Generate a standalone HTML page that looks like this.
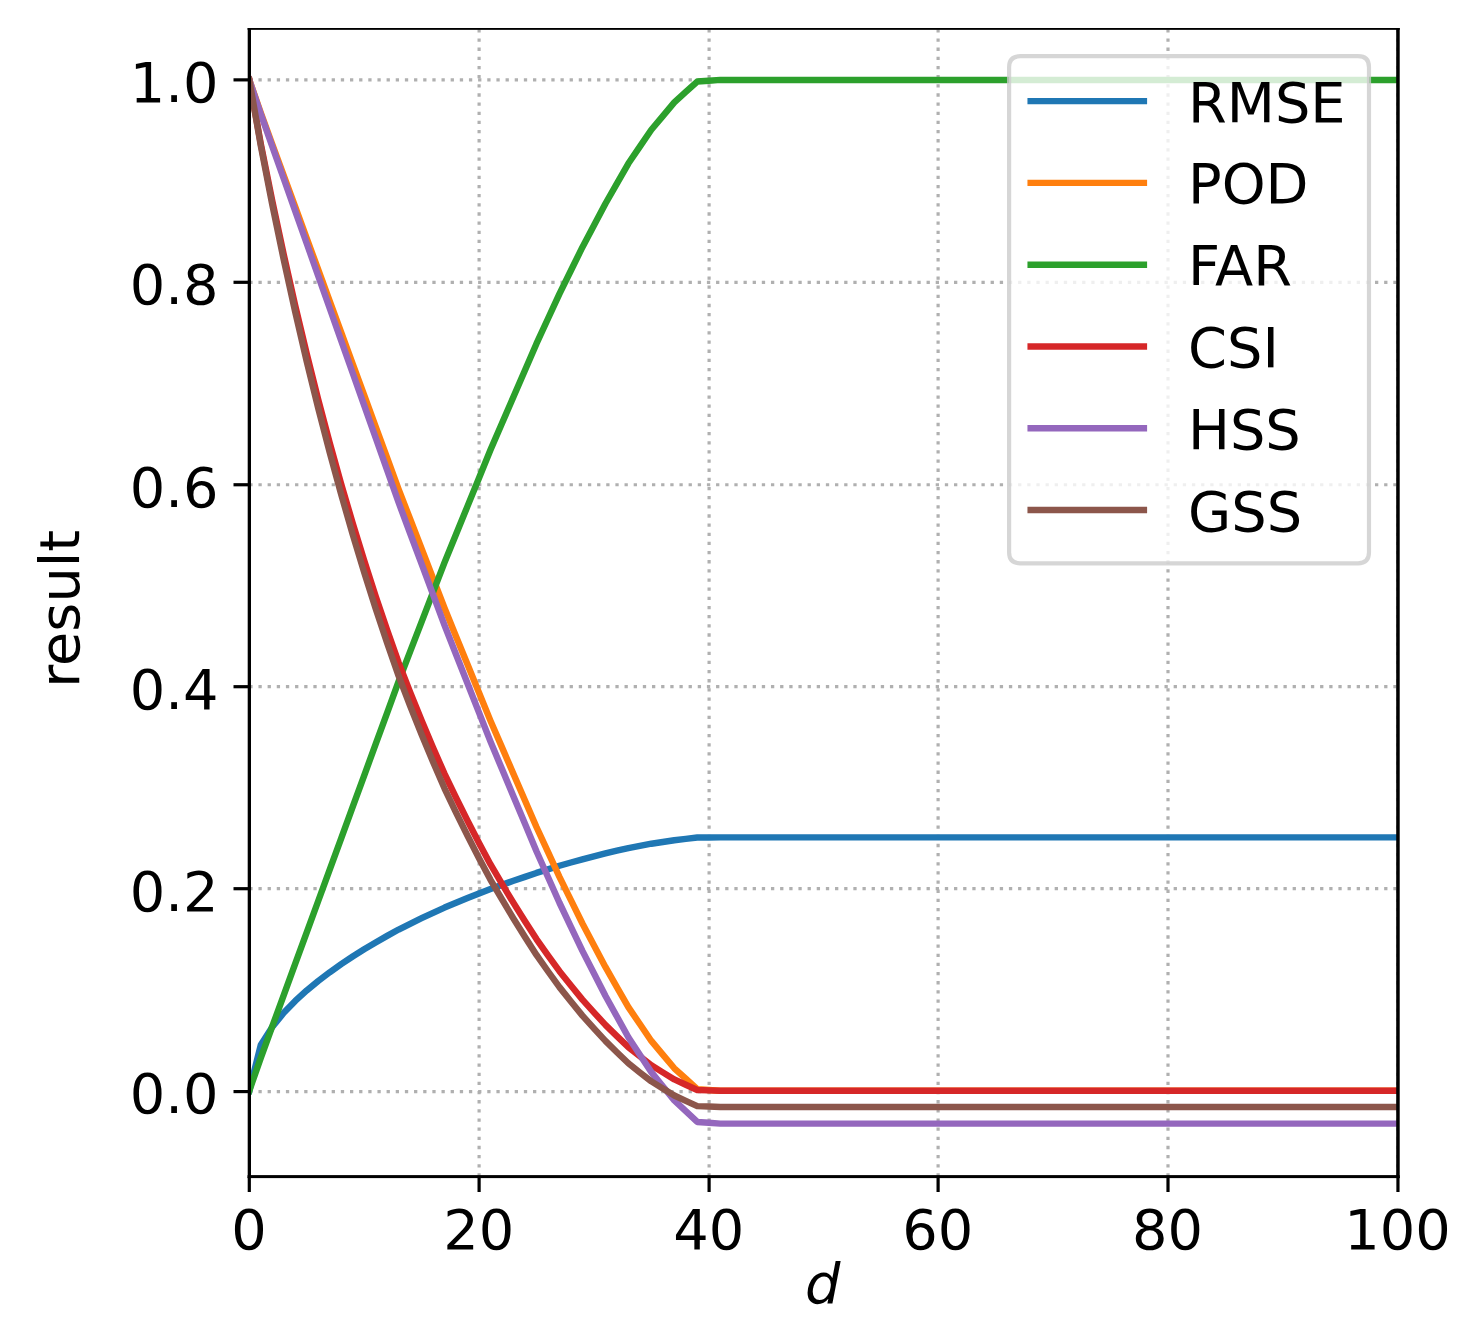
<!DOCTYPE html>
<html><head><meta charset="utf-8"><title>result vs d</title>
<style>
html,body{margin:0;padding:0;background:#fff;}
body{width:1479px;height:1338px;overflow:hidden;}
svg{display:block;}
text{font-family:"DejaVu Sans","Liberation Sans",sans-serif;font-size:55.8px;fill:#000;}
</style></head><body>
<svg width="1479" height="1338" viewBox="0 0 1479 1338">
<rect width="1479" height="1338" fill="#fff"/>
<defs><clipPath id="ax"><rect x="249.3" y="29.2" width="1148.65" height="1147.3999999999999"/></clipPath></defs>

<g stroke="#b0b0b0" stroke-width="3.2" stroke-dasharray="3.3 5.852" fill="none" clip-path="url(#ax)">
<path d="M249.30 1176.6 V29.2"/>
<path d="M479.10 1176.6 V29.2"/>
<path d="M709.10 1176.6 V29.2"/>
<path d="M938.10 1176.6 V29.2"/>
<path d="M1168.00 1176.6 V29.2"/>
<path d="M1397.95 1176.6 V29.2"/>
<path d="M249.3 1091.57 H1397.95"/>
<path d="M249.3 888.70 H1397.95"/>
<path d="M249.3 686.70 H1397.95"/>
<path d="M249.3 484.75 H1397.95"/>
<path d="M249.3 282.30 H1397.95"/>
<path d="M249.3 79.87 H1397.95"/>
</g>
<g fill="none" stroke-width="6.45" stroke-linejoin="round" stroke-linecap="square" clip-path="url(#ax)">
<polyline stroke="#1f77b4" points="249.30,1090.80 260.79,1045.03 272.27,1026.87 283.76,1012.82 295.25,1000.95 306.73,990.47 318.22,980.99 329.71,972.26 341.19,964.13 352.68,956.50 364.17,949.27 375.65,942.40 387.14,935.83 398.62,929.53 410.11,923.77 421.60,918.21 433.08,912.81 444.57,907.58 456.06,902.76 467.54,898.07 479.03,893.48 490.52,889.00 502.00,884.86 513.49,880.81 524.98,876.83 536.46,872.93 547.95,869.32 559.44,865.78 570.92,862.51 582.41,859.28 593.89,856.32 605.38,853.40 616.87,850.72 628.35,848.08 639.84,845.88 651.33,843.70 662.81,841.95 674.30,840.21 685.79,838.89 697.27,837.57 708.76,837.47 720.25,837.37 731.73,837.37 743.22,837.37 754.71,837.37 766.19,837.37 777.68,837.37 789.17,837.37 800.65,837.37 812.14,837.37 823.62,837.37 835.11,837.37 846.60,837.37 858.08,837.37 869.57,837.37 881.06,837.37 892.54,837.37 904.03,837.37 915.52,837.37 927.00,837.37 938.49,837.37 949.98,837.37 961.46,837.37 972.95,837.37 984.44,837.37 995.92,837.37 1007.41,837.37 1018.90,837.37 1030.38,837.37 1041.87,837.37 1053.36,837.37 1064.84,837.37 1076.33,837.37 1087.81,837.37 1099.30,837.37 1110.79,837.37 1122.27,837.37 1133.76,837.37 1145.25,837.37 1156.73,837.37 1168.22,837.37 1179.71,837.37 1191.19,837.37 1202.68,837.37 1214.17,837.37 1225.65,837.37 1237.14,837.37 1248.63,837.37 1260.11,837.37 1271.60,837.37 1283.09,837.37 1294.57,837.37 1306.06,837.37 1317.54,837.37 1329.03,837.37 1340.52,837.37 1352.00,837.37 1363.49,837.37 1374.98,837.37 1386.46,837.37 1397.95,837.37"/>
<polyline stroke="#ff7f0e" points="249.30,79.90 260.79,112.87 272.27,144.24 283.76,175.60 295.25,206.97 306.73,238.33 318.22,269.70 329.71,301.06 341.19,332.42 352.68,363.79 364.17,395.15 375.65,426.52 387.14,457.88 398.62,489.25 410.11,519.00 421.60,548.76 433.08,578.51 444.57,608.27 456.06,636.42 467.54,664.57 479.03,692.71 490.52,720.86 502.00,747.40 513.49,773.94 524.98,800.48 536.46,827.02 547.95,851.95 559.44,876.88 570.92,900.20 582.41,923.52 593.89,945.24 605.38,966.95 616.87,987.06 628.35,1007.16 639.84,1024.05 651.33,1040.94 662.81,1054.61 674.30,1068.28 685.79,1078.74 697.27,1089.19 708.76,1090.00 720.25,1090.80 731.73,1090.80 743.22,1090.80 754.71,1090.80 766.19,1090.80 777.68,1090.80 789.17,1090.80 800.65,1090.80 812.14,1090.80 823.62,1090.80 835.11,1090.80 846.60,1090.80 858.08,1090.80 869.57,1090.80 881.06,1090.80 892.54,1090.80 904.03,1090.80 915.52,1090.80 927.00,1090.80 938.49,1090.80 949.98,1090.80 961.46,1090.80 972.95,1090.80 984.44,1090.80 995.92,1090.80 1007.41,1090.80 1018.90,1090.80 1030.38,1090.80 1041.87,1090.80 1053.36,1090.80 1064.84,1090.80 1076.33,1090.80 1087.81,1090.80 1099.30,1090.80 1110.79,1090.80 1122.27,1090.80 1133.76,1090.80 1145.25,1090.80 1156.73,1090.80 1168.22,1090.80 1179.71,1090.80 1191.19,1090.80 1202.68,1090.80 1214.17,1090.80 1225.65,1090.80 1237.14,1090.80 1248.63,1090.80 1260.11,1090.80 1271.60,1090.80 1283.09,1090.80 1294.57,1090.80 1306.06,1090.80 1317.54,1090.80 1329.03,1090.80 1340.52,1090.80 1352.00,1090.80 1363.49,1090.80 1374.98,1090.80 1386.46,1090.80 1397.95,1090.80"/>
<polyline stroke="#2ca02c" points="249.30,1090.80 260.79,1057.83 272.27,1026.46 283.76,995.10 295.25,963.73 306.73,932.37 318.22,901.00 329.71,869.64 341.19,838.28 352.68,806.91 364.17,775.55 375.65,744.18 387.14,712.82 398.62,681.45 410.11,651.70 421.60,621.94 433.08,592.19 444.57,562.43 456.06,534.28 467.54,506.13 479.03,477.99 490.52,449.84 502.00,423.30 513.49,396.76 524.98,370.22 536.46,343.68 547.95,318.75 559.44,293.82 570.92,270.50 582.41,247.18 593.89,225.46 605.38,203.75 616.87,183.64 628.35,163.54 639.84,146.65 651.33,129.76 662.81,116.09 674.30,102.42 685.79,91.96 697.27,81.51 708.76,80.70 720.25,79.90 731.73,79.90 743.22,79.90 754.71,79.90 766.19,79.90 777.68,79.90 789.17,79.90 800.65,79.90 812.14,79.90 823.62,79.90 835.11,79.90 846.60,79.90 858.08,79.90 869.57,79.90 881.06,79.90 892.54,79.90 904.03,79.90 915.52,79.90 927.00,79.90 938.49,79.90 949.98,79.90 961.46,79.90 972.95,79.90 984.44,79.90 995.92,79.90 1007.41,79.90 1018.90,79.90 1030.38,79.90 1041.87,79.90 1053.36,79.90 1064.84,79.90 1076.33,79.90 1087.81,79.90 1099.30,79.90 1110.79,79.90 1122.27,79.90 1133.76,79.90 1145.25,79.90 1156.73,79.90 1168.22,79.90 1179.71,79.90 1191.19,79.90 1202.68,79.90 1214.17,79.90 1225.65,79.90 1237.14,79.90 1248.63,79.90 1260.11,79.90 1271.60,79.90 1283.09,79.90 1294.57,79.90 1306.06,79.90 1317.54,79.90 1329.03,79.90 1340.52,79.90 1352.00,79.90 1363.49,79.90 1374.98,79.90 1386.46,79.90 1397.95,79.90"/>
<polyline stroke="#d62728" points="249.30,79.90 260.79,143.76 272.27,200.88 283.76,254.75 295.25,305.66 306.73,353.83 318.22,399.49 329.71,442.82 341.19,484.00 352.68,523.19 364.17,560.52 375.65,596.13 387.14,630.13 398.62,662.63 410.11,692.16 421.60,720.50 433.08,747.73 444.57,773.90 456.06,797.75 467.54,820.75 479.03,842.96 490.52,864.41 502.00,883.97 513.49,902.93 524.98,921.30 536.46,939.12 547.95,955.37 559.44,971.18 570.92,985.58 582.41,999.62 593.89,1012.37 605.38,1024.83 616.87,1036.12 628.35,1047.18 639.84,1056.29 651.33,1065.24 662.81,1072.38 674.30,1079.41 685.79,1084.73 697.27,1090.00 708.76,1090.40 720.25,1090.80 731.73,1090.80 743.22,1090.80 754.71,1090.80 766.19,1090.80 777.68,1090.80 789.17,1090.80 800.65,1090.80 812.14,1090.80 823.62,1090.80 835.11,1090.80 846.60,1090.80 858.08,1090.80 869.57,1090.80 881.06,1090.80 892.54,1090.80 904.03,1090.80 915.52,1090.80 927.00,1090.80 938.49,1090.80 949.98,1090.80 961.46,1090.80 972.95,1090.80 984.44,1090.80 995.92,1090.80 1007.41,1090.80 1018.90,1090.80 1030.38,1090.80 1041.87,1090.80 1053.36,1090.80 1064.84,1090.80 1076.33,1090.80 1087.81,1090.80 1099.30,1090.80 1110.79,1090.80 1122.27,1090.80 1133.76,1090.80 1145.25,1090.80 1156.73,1090.80 1168.22,1090.80 1179.71,1090.80 1191.19,1090.80 1202.68,1090.80 1214.17,1090.80 1225.65,1090.80 1237.14,1090.80 1248.63,1090.80 1260.11,1090.80 1271.60,1090.80 1283.09,1090.80 1294.57,1090.80 1306.06,1090.80 1317.54,1090.80 1329.03,1090.80 1340.52,1090.80 1352.00,1090.80 1363.49,1090.80 1374.98,1090.80 1386.46,1090.80 1397.95,1090.80"/>
<polyline stroke="#9467bd" points="249.30,79.90 260.79,113.94 272.27,146.32 283.76,178.71 295.25,211.09 306.73,243.47 318.22,275.85 329.71,308.23 341.19,340.62 352.68,373.00 364.17,405.38 375.65,437.76 387.14,470.15 398.62,502.53 410.11,533.25 421.60,563.97 433.08,594.69 444.57,625.41 456.06,654.47 467.54,683.53 479.03,712.60 490.52,741.66 502.00,769.06 513.49,796.46 524.98,823.86 536.46,851.26 547.95,877.00 559.44,902.74 570.92,926.82 582.41,950.89 593.89,973.31 605.38,995.73 616.87,1016.49 628.35,1037.25 639.84,1054.68 651.33,1072.12 662.81,1086.23 674.30,1100.35 685.79,1111.14 697.27,1121.94 708.76,1122.77 720.25,1123.60 731.73,1123.60 743.22,1123.60 754.71,1123.60 766.19,1123.60 777.68,1123.60 789.17,1123.60 800.65,1123.60 812.14,1123.60 823.62,1123.60 835.11,1123.60 846.60,1123.60 858.08,1123.60 869.57,1123.60 881.06,1123.60 892.54,1123.60 904.03,1123.60 915.52,1123.60 927.00,1123.60 938.49,1123.60 949.98,1123.60 961.46,1123.60 972.95,1123.60 984.44,1123.60 995.92,1123.60 1007.41,1123.60 1018.90,1123.60 1030.38,1123.60 1041.87,1123.60 1053.36,1123.60 1064.84,1123.60 1076.33,1123.60 1087.81,1123.60 1099.30,1123.60 1110.79,1123.60 1122.27,1123.60 1133.76,1123.60 1145.25,1123.60 1156.73,1123.60 1168.22,1123.60 1179.71,1123.60 1191.19,1123.60 1202.68,1123.60 1214.17,1123.60 1225.65,1123.60 1237.14,1123.60 1248.63,1123.60 1260.11,1123.60 1271.60,1123.60 1283.09,1123.60 1294.57,1123.60 1306.06,1123.60 1317.54,1123.60 1329.03,1123.60 1340.52,1123.60 1352.00,1123.60 1363.49,1123.60 1374.98,1123.60 1386.46,1123.60 1397.95,1123.60"/>
<polyline stroke="#8c564b" points="249.30,79.90 260.79,145.77 272.27,204.56 283.76,259.92 295.25,312.14 306.73,361.48 318.22,408.17 329.71,452.43 341.19,494.43 352.68,534.34 364.17,572.32 375.65,608.50 387.14,643.01 398.62,675.96 410.11,705.87 421.60,734.56 433.08,762.09 444.57,788.53 456.06,812.60 467.54,835.80 479.03,858.18 490.52,879.79 502.00,899.48 513.49,918.55 524.98,937.03 536.46,954.93 547.95,971.26 559.44,987.12 570.92,1001.57 582.41,1015.65 593.89,1028.43 605.38,1040.92 616.87,1052.23 628.35,1063.29 639.84,1072.41 651.33,1081.37 662.81,1088.51 674.30,1095.55 685.79,1100.87 697.27,1106.13 708.76,1106.54 720.25,1106.94 731.73,1106.94 743.22,1106.94 754.71,1106.94 766.19,1106.94 777.68,1106.94 789.17,1106.94 800.65,1106.94 812.14,1106.94 823.62,1106.94 835.11,1106.94 846.60,1106.94 858.08,1106.94 869.57,1106.94 881.06,1106.94 892.54,1106.94 904.03,1106.94 915.52,1106.94 927.00,1106.94 938.49,1106.94 949.98,1106.94 961.46,1106.94 972.95,1106.94 984.44,1106.94 995.92,1106.94 1007.41,1106.94 1018.90,1106.94 1030.38,1106.94 1041.87,1106.94 1053.36,1106.94 1064.84,1106.94 1076.33,1106.94 1087.81,1106.94 1099.30,1106.94 1110.79,1106.94 1122.27,1106.94 1133.76,1106.94 1145.25,1106.94 1156.73,1106.94 1168.22,1106.94 1179.71,1106.94 1191.19,1106.94 1202.68,1106.94 1214.17,1106.94 1225.65,1106.94 1237.14,1106.94 1248.63,1106.94 1260.11,1106.94 1271.60,1106.94 1283.09,1106.94 1294.57,1106.94 1306.06,1106.94 1317.54,1106.94 1329.03,1106.94 1340.52,1106.94 1352.00,1106.94 1363.49,1106.94 1374.98,1106.94 1386.46,1106.94 1397.95,1106.94"/>
</g>
<g fill="#000"><rect x="247.7" y="28" width="3.3" height="1150.1"/><rect x="1396.2" y="28" width="3.5" height="1150.1"/><rect x="247.6" y="28" width="1152.1" height="1.85"/><rect x="247.6" y="1175.1" width="1152.1" height="3.0"/></g>
<g stroke="#000" stroke-width="3.2" fill="none">
<path d="M249.30 1176.6 V1192"/>
<path d="M479.10 1176.6 V1192"/>
<path d="M709.10 1176.6 V1192"/>
<path d="M938.10 1176.6 V1192"/>
<path d="M1168.00 1176.6 V1192"/>
<path d="M1397.95 1176.6 V1192"/>
<path d="M249.3 1091.57 H233.5"/>
<path d="M249.3 888.70 H233.5"/>
<path d="M249.3 686.70 H233.5"/>
<path d="M249.3 484.75 H233.5"/>
<path d="M249.3 282.30 H233.5"/>
<path d="M249.3 79.87 H233.5"/>
</g>
<text x="248.90" y="1248.5" text-anchor="middle">0</text>
<text x="478.70" y="1248.5" text-anchor="middle">20</text>
<text x="708.70" y="1248.5" text-anchor="middle">40</text>
<text x="937.70" y="1248.5" text-anchor="middle">60</text>
<text x="1167.60" y="1248.5" text-anchor="middle">80</text>
<text x="1397.55" y="1248.5" text-anchor="middle">100</text>
<text x="218.4" y="1113.37" text-anchor="end">0.0</text>
<text x="218.4" y="910.50" text-anchor="end">0.2</text>
<text x="218.4" y="708.50" text-anchor="end">0.4</text>
<text x="218.4" y="506.55" text-anchor="end">0.6</text>
<text x="218.4" y="304.10" text-anchor="end">0.8</text>
<text x="218.4" y="101.67" text-anchor="end">1.0</text>
<text transform="translate(79.2 608.8) rotate(-90)" text-anchor="middle">result</text>
<text x="822.8" y="1303.2" text-anchor="middle" font-style="italic" font-size="56.8">d</text>
<path d="M1020.1 56.2 H1358.0 Q1369.0 56.2 1369.0 67.2 V552.3 Q1369.0 563.3 1358.0 563.3 H1020.1 Q1009.1 563.3 1009.1 552.3 V67.2 Q1009.1 56.2 1020.1 56.2 Z" fill="#fff" fill-opacity="0.8" stroke="#ccc" stroke-opacity="0.8" stroke-width="4.17"/>
<path d="M1027.45 101.10 H1147.1" stroke="#1f77b4" stroke-width="6.45" fill="none"/>
<text x="1188.0" y="121.60">RMSE</text>
<path d="M1027.45 182.88 H1147.1" stroke="#ff7f0e" stroke-width="6.45" fill="none"/>
<text x="1188.0" y="203.38">POD</text>
<path d="M1027.45 264.66 H1147.1" stroke="#2ca02c" stroke-width="6.45" fill="none"/>
<text x="1188.0" y="285.16">FAR</text>
<path d="M1027.45 346.44 H1147.1" stroke="#d62728" stroke-width="6.45" fill="none"/>
<text x="1188.0" y="366.94">CSI</text>
<path d="M1027.45 428.22 H1147.1" stroke="#9467bd" stroke-width="6.45" fill="none"/>
<text x="1188.0" y="448.72">HSS</text>
<path d="M1027.45 510.00 H1147.1" stroke="#8c564b" stroke-width="6.45" fill="none"/>
<text x="1188.0" y="530.50">GSS</text>
</svg></body></html>
